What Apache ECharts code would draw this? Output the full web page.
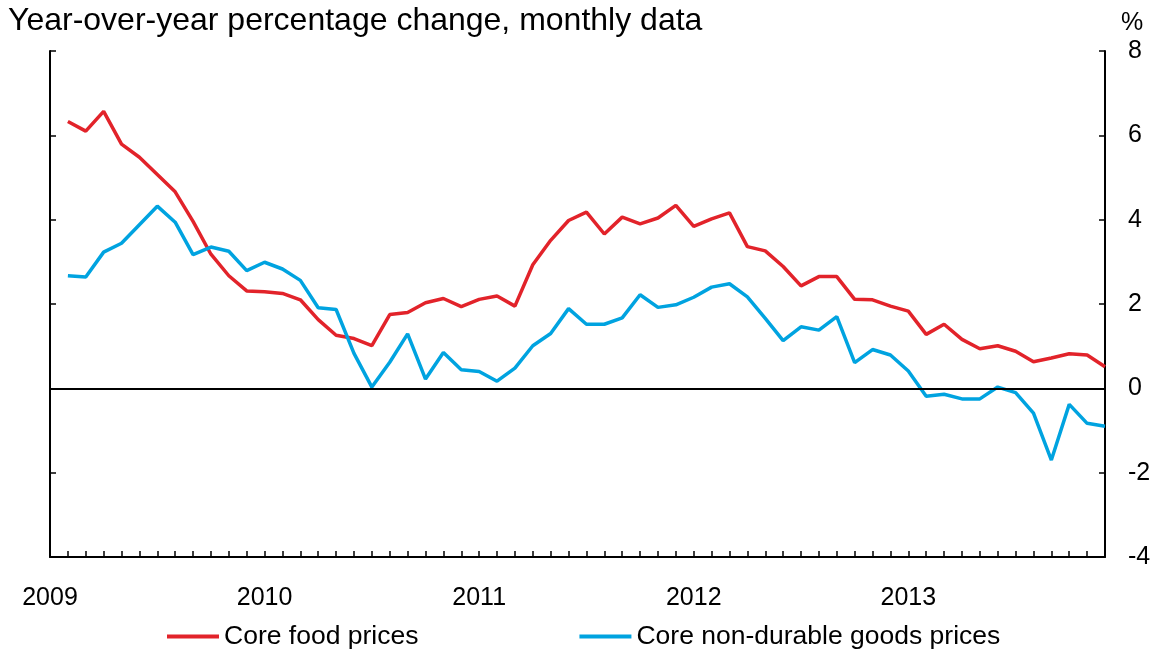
<!DOCTYPE html>
<html>
<head>
<meta charset="utf-8">
<script src="https://cdn.jsdelivr.net/npm/echarts@6/dist/echarts.min.js"></script>
<style>
  html, body { margin: 0; padding: 0; background: #fff; }
  #main { width: 1156px; height: 651px; }
</style>
</head>
<body>
<div id="main"></div>
<script>
// months Jan 2009 .. Dec 2013
const years = [2009, 2010, 2011, 2012, 2013];
const months = [];
years.forEach(function (y) {
  for (let m = 1; m <= 12; m++) months.push(y + "-" + (m < 10 ? "0" + m : m));
});

// year-over-year % change, series start Feb 2009
const coreFood = [
  null, 6.33, 6.10, 6.57, 5.79, 5.48, 5.07, 4.66, 3.96, 3.18, 2.67, 2.31,
  2.29, 2.25, 2.10, 1.63, 1.26, 1.18, 1.01, 1.75, 1.80, 2.03, 2.13, 1.94,
  2.11, 2.19, 1.95, 2.93, 3.51, 3.98, 4.18, 3.66, 4.06, 3.90, 4.04, 4.34,
  3.84, 4.02, 4.16, 3.36, 3.26, 2.89, 2.43, 2.65, 2.65, 2.11, 2.10, 1.95,
  1.83, 1.28, 1.52, 1.16, 0.94, 1.01, 0.88, 0.63, 0.72, 0.82, 0.79, 0.51
];
const coreNonDurable = [
  null, 2.67, 2.64, 3.23, 3.44, 3.88, 4.32, 3.94, 3.17, 3.35, 3.25, 2.79,
  2.99, 2.83, 2.56, 1.91, 1.87, 0.83, 0.03, 0.62, 1.29, 0.22, 0.85, 0.44,
  0.40, 0.17, 0.48, 1.01, 1.30, 1.89, 1.52, 1.52, 1.67, 2.22, 1.92, 1.98,
  2.16, 2.40, 2.48, 2.17, 1.66, 1.13, 1.46, 1.38, 1.70, 0.61, 0.92, 0.79,
  0.41, -0.19, -0.14, -0.25, -0.25, 0.03, -0.10, -0.59, -1.70, -0.38, -0.83, -0.90
];

const FONT = "'Liberation Sans', Arial, sans-serif";
const RED = "#e2232a";
const BLUE = "#00a3e0";

var myChart = echarts.init(document.getElementById("main"));
myChart.setOption({
  animation: false,
  textStyle: { fontFamily: FONT, color: "#000" },
  title: [
    {
      text: "Year-over-year percentage change, monthly data",
      left: 3,
      top: 0,
      textStyle: { fontFamily: FONT, fontSize: 32, fontWeight: "normal", color: "#000" }
    },
    {
      text: "%",
      left: 1116,
      top: 6,
      textStyle: { fontFamily: FONT, fontSize: 25, fontWeight: "normal", color: "#000" }
    }
  ],
  legend: {
    top: 618,
    left: 162,
    itemGap: 161,
    itemWidth: 52,
    itemHeight: 4,
    icon: "rect",
    textStyle: { fontFamily: FONT, fontSize: 26.5, color: "#000" },
    data: ["Core food prices", "Core non-durable goods prices"]
  },
  grid: { left: 50, right: 51, top: 51, bottom: 94 },
  xAxis: {
    type: "category",
    data: months,
    boundaryGap: false,
    axisLine: { onZero: false, lineStyle: { color: "#000", width: 2 } },
    axisTick: { inside: true, length: 6, interval: 0, lineStyle: { color: "#000", width: 1.5 } },
    axisLabel: {
      interval: function (i) { return i % 12 === 0; },
      formatter: function (v) { return v.slice(0, 4); },
      margin: 29,
      fontSize: 25,
      color: "#000",
      fontFamily: FONT
    },
    splitLine: { show: false }
  },
  yAxis: [
    {
      type: "value",
      position: "left",
      min: -4,
      max: 8,
      interval: 2,
      axisLine: { show: true, lineStyle: { color: "#000", width: 2 } },
      axisTick: { show: true, inside: true, length: 6, lineStyle: { color: "#000", width: 1.5 } },
      axisLabel: { show: false },
      splitLine: { show: false }
    },
    {
      type: "value",
      position: "right",
      min: -4,
      max: 8,
      interval: 2,
      axisLine: { show: true, lineStyle: { color: "#000", width: 2 } },
      axisTick: { show: true, inside: true, length: 6, lineStyle: { color: "#000", width: 1.5 } },
      axisLabel: { margin: 23, fontSize: 25, color: "#000", fontFamily: FONT },
      splitLine: { show: false }
    }
  ],
  series: [
    {
      name: "Core food prices",
      type: "line",
      data: coreFood,
      showSymbol: false,
      symbol: "none",
      color: RED,
      lineStyle: { color: RED, width: 3.5 },
      markLine: {
        silent: true,
        symbol: "none",
        label: { show: false },
        lineStyle: { color: "#000", width: 2, type: "solid" },
        data: [{ yAxis: 0 }]
      }
    },
    {
      name: "Core non-durable goods prices",
      type: "line",
      data: coreNonDurable,
      showSymbol: false,
      symbol: "none",
      color: BLUE,
      lineStyle: { color: BLUE, width: 3.5 }
    }
  ]
});
</script>
</body>
</html>
